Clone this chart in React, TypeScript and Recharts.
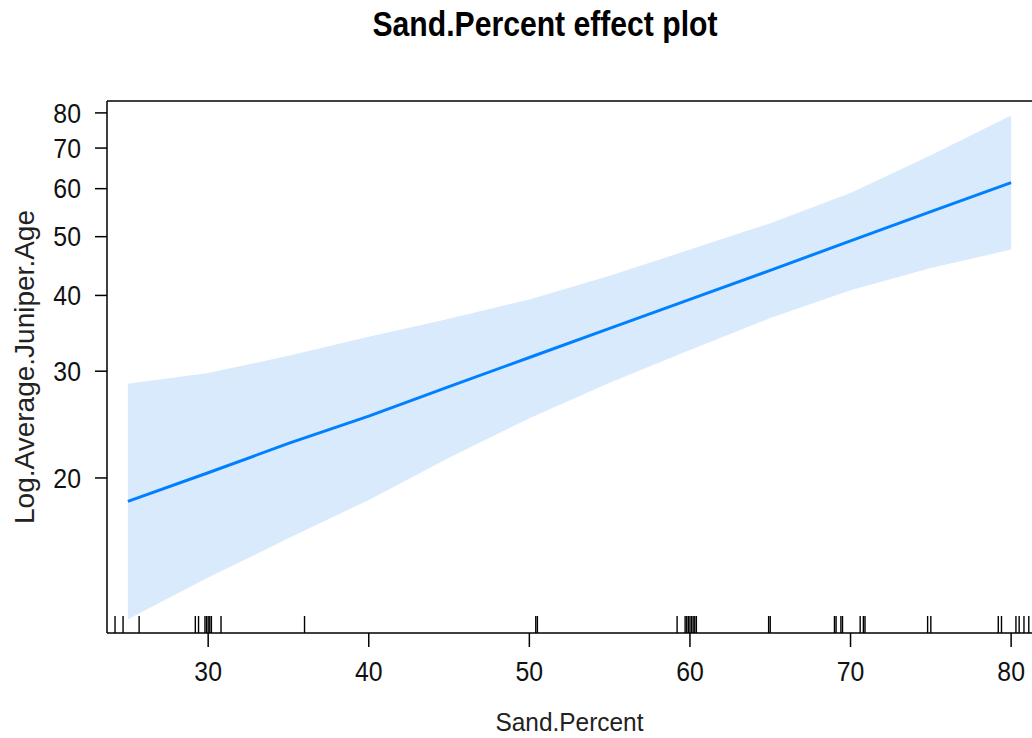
import { ComposedChart, Area, Line, Scatter, XAxis, YAxis, Label } from "recharts";

// effect estimate and 95% band (y on a log scale)
const sand = [25, 30, 35, 40, 45, 50, 55, 60, 65, 70, 75, 80];
const fit = [18.3, 20.4, 22.8, 25.3, 28.3, 31.6, 35.3, 39.4, 44.0, 49.2, 55.0, 61.4];
const lower = [11.7, 13.7, 15.9, 18.4, 21.6, 25.1, 28.7, 32.5, 36.7, 40.8, 44.4, 47.6];
const upper = [28.6, 29.8, 31.8, 34.2, 36.6, 39.4, 43.1, 47.6, 52.6, 59.0, 68.1, 79.2];

// rug of observed Sand.Percent values
const rugSand = [
  24.2, 24.7, 25.7, 29.2, 29.4, 29.8, 29.9, 30.0, 30.1, 30.2, 30.8, 36.0, 50.4, 50.5,
  59.2, 59.7, 59.8, 59.9, 60.0, 60.1, 60.2, 60.3, 60.4, 64.9, 65.0, 69.0, 69.1, 69.4,
  69.5, 70.6, 70.8, 70.9, 74.8, 75.0, 79.2, 79.4, 80.3, 80.5, 80.8, 81.1,
];

const xTicks = [30, 40, 50, 60, 70, 80];
const yTicks = [20, 30, 40, 50, 60, 70, 80];

const X_DOMAIN: [number, number] = [23.7, 81.3];
const Y_MIN = 11.1;
const Y_MAX = 83.7;

const FONT = "'Liberation Sans', Arial, sans-serif";
const LINE = "#0080ff";
const BAND = "#d9eafd";

const rows = sand.map((s, i) => ({ sand: s, fit: fit[i], band: [lower[i], upper[i]] }));
const rugRows = rugSand.map((s) => ({ sand: s, y: Y_MIN }));

const axisStroke = { stroke: "#000", strokeWidth: 1.5 };

// R's text here is a little narrow and tall, so squeeze the glyphs a bit
function TickText(props: any) {
  const { x, y, payload, textAnchor, orientation } = props;
  const dy = orientation === "bottom" ? "0.78em" : "0.36em";
  return (
    <g transform={`translate(${x}, ${y}) scale(0.92, 1)`}>
      <text x={0} y={0} dy={dy} textAnchor={textAnchor} fontSize={27} fontFamily={FONT} fill="#111">
        {payload.value}
      </text>
    </g>
  );
}

function RugMark(props: any) {
  const { cx, cy } = props;
  return <line x1={cx} x2={cx} y1={cy} y2={cy - 17} stroke="#000" strokeWidth={1.4} />;
}

function YTitle(props: any) {
  const vb = props.viewBox;
  const cx = 24;
  const cy = vb.y + vb.height / 2;
  return (
    <text
      x={cx}
      y={cy}
      transform={`rotate(-90, ${cx}, ${cy})`}
      textAnchor="middle"
      dominantBaseline="central"
      fontSize={28}
      fontFamily={FONT}
      fill="#222"
    >
      Log.Average.Juniper.Age
    </text>
  );
}

function XTitle(props: any) {
  const vb = props.viewBox;
  return (
    <text
      x={vb.x + vb.width / 2}
      y={731}
      textAnchor="middle"
      fontSize={26}
      fontFamily={FONT}
      textLength={148}
      lengthAdjust="spacingAndGlyphs"
      fill="#222"
    >
      Sand.Percent
    </text>
  );
}

export default function App() {
  return (
    <div style={{ position: "absolute", left: 0, top: 0, width: 1032, height: 738, background: "#fff" }}>
      <svg width={1032} height={60} style={{ position: "absolute", left: 0, top: 0 }}>
        <text
          x={545}
          y={36}
          textAnchor="middle"
          fontSize={35}
          fontWeight="bold"
          fontFamily={FONT}
          textLength={345}
          lengthAdjust="spacingAndGlyphs"
          fill="#000"
        >
          Sand.Percent effect plot
        </text>
      </svg>
      <ComposedChart
        width={1032}
        height={738}
        data={rows}
        margin={{ top: 88, right: 0, bottom: 0, left: 0 }}
      >
        <XAxis
          dataKey="sand"
          type="number"
          domain={X_DOMAIN}
          ticks={xTicks}
          allowDataOverflow
          height={105}
          tickSize={14}
          tickMargin={13}
          axisLine={axisStroke}
          tickLine={axisStroke}
          tick={<TickText />}
        >
          <Label content={XTitle} />
        </XAxis>
        <XAxis
          xAxisId="top"
          orientation="top"
          type="number"
          domain={X_DOMAIN}
          ticks={xTicks}
          allowDataOverflow
          height={13}
          tickSize={13}
          tickMargin={0}
          axisLine={axisStroke}
          tickLine={axisStroke}
          tickFormatter={() => ""}
        />
        <YAxis
          type="number"
          scale="log"
          domain={[Y_MIN, Y_MAX]}
          ticks={yTicks}
          allowDataOverflow
          width={107}
          tickSize={12}
          tickMargin={14}
          axisLine={axisStroke}
          tickLine={axisStroke}
          tick={<TickText />}
        >
          <Label content={YTitle} />
        </YAxis>
        <Area
          dataKey="band"
          type="linear"
          fill={BAND}
          fillOpacity={1}
          stroke="none"
          isAnimationActive={false}
          activeDot={false}
        />
        <Line
          dataKey="fit"
          type="linear"
          stroke={LINE}
          strokeWidth={3}
          dot={false}
          activeDot={false}
          isAnimationActive={false}
        />
        <Scatter data={rugRows} dataKey="y" shape={RugMark} isAnimationActive={false} />
      </ComposedChart>
    </div>
  );
}
